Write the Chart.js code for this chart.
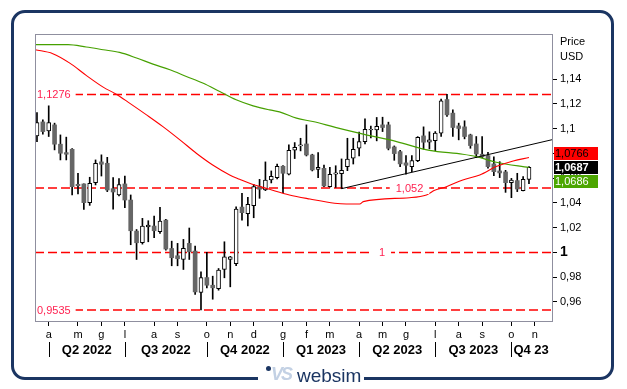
<!DOCTYPE html>
<html><head><meta charset="utf-8">
<script src="https://cdn.jsdelivr.net/npm/chart.js@4.4.0/dist/chart.umd.min.js"></script>
<style>
html,body{margin:0;padding:0;background:#fff;}
#wrap{position:relative;width:627px;height:389px;overflow:hidden;background:#fff;}
#frame{position:absolute;left:11px;top:10px;width:597px;height:364px;border:3px solid #1b3562;border-radius:14px;}
#c{position:absolute;left:0;top:0;}
#logobg{position:absolute;left:258px;top:370px;width:106px;height:19px;background:#fff;}
#dot{position:absolute;left:266px;top:366px;width:5px;height:5px;border-radius:50%;background:#1b3562;}
#vs{position:absolute;left:271px;top:365px;font:italic bold 18px "Liberation Sans",Arial,sans-serif;color:#c3d1e4;letter-spacing:-2px;line-height:18px;}
#ws{position:absolute;left:297px;top:366px;font:19px "Liberation Sans",Arial,sans-serif;color:#1b3562;line-height:19px;}
</style></head>
<body>
<div id="wrap">
  <div id="frame"></div>
  <canvas id="c" width="627" height="389"></canvas>
  <div id="logobg"></div>
  <div id="dot"></div>
  <div id="vs">VS</div>
  <div id="ws">websim</div>
</div>
<script>
// Weekly candles, week index 0 = 14 Mar 2022 ... 84 = 23 Oct 2023
const opens=[1.0941,1.1054,1.0982,1.1030,1.0874,1.0806,1.0833,1.0550,1.0553,1.0402,
1.0564,1.0731,1.0720,1.0515,1.0464,1.0553,1.0423,1.0172,1.0078,1.0206,
1.0213,1.0167,1.0261,1.0032,0.9973,0.9943,1.0073,1.0011,0.9676,0.9797,
0.9735,0.9708,0.9862,0.9944,0.9910,1.0366,1.0313,1.0377,1.0531,1.0504,
1.0585,1.0604,1.0696,1.0631,1.0825,1.0861,1.0876,1.0787,1.0671,1.0679,
1.0531,1.0631,1.0636,1.0693,1.0761,1.0841,1.0895,1.0990,1.0990,1.1030,
1.1030,1.0852,1.0814,1.0723,1.0693,1.0741,1.0941,1.0890,1.0903,1.0963,
1.1235,1.1125,1.1022,1.1014,1.0949,1.0876,1.0793,1.0782,1.0715,1.0658,
1.0650,1.0563,1.0580,1.0499,1.0590];
const highs=[1.1130,1.1071,1.1184,1.1044,1.0949,1.0931,1.0839,1.0639,1.0553,1.0607,
1.0747,1.0788,1.0768,1.0604,1.0596,1.0617,1.0464,1.0185,1.0275,1.0256,
1.0294,1.0364,1.0267,1.0091,1.0073,1.0105,1.0197,1.0051,0.9843,1.0000,
0.9808,0.9870,1.0086,0.9968,1.0369,1.0477,1.0445,1.0550,1.0590,1.0731,
1.0658,1.0714,1.0701,1.0868,1.0887,1.0922,1.1030,1.0793,1.0806,1.0706,
1.0687,1.0700,1.0755,1.0922,1.0922,1.0971,1.1079,1.1020,1.1090,1.1092,
1.1052,1.0860,1.0825,1.0782,1.0782,1.0935,1.1014,1.0974,1.0976,1.1238,
1.1276,1.1152,1.1044,1.1063,1.0955,1.0936,1.0936,1.0809,1.0771,1.0733,
1.0663,1.0598,1.0639,1.0612,1.0694];
const lows=[1.0895,1.0955,1.0936,1.0828,1.0747,1.0747,1.0464,1.0472,1.0348,1.0380,
1.0545,1.0617,1.0491,1.0350,1.0456,1.0361,1.0062,0.9943,1.0067,1.0086,
1.0119,1.0153,1.0019,0.9892,0.9892,0.9862,0.9943,0.9660,0.9535,0.9714,
0.9622,0.9695,0.9795,0.9722,0.9892,1.0261,1.0213,1.0280,1.0437,1.0499,
1.0561,1.0593,1.0483,1.0626,1.0758,1.0820,1.0779,1.0658,1.0604,1.0531,
1.0526,1.0525,1.0516,1.0660,1.0714,1.0779,1.0876,1.0925,1.0901,1.0976,
1.0828,1.0744,1.0693,1.0631,1.0653,1.0733,1.0833,1.0836,1.0822,1.0936,
1.1098,1.0936,1.0909,1.0917,1.0841,1.0766,1.0766,1.0680,1.0620,1.0604,
1.0485,1.0442,1.0491,1.0496,1.0555];
const closes=[1.1049,1.0976,1.1049,1.0874,1.0801,1.0793,1.0531,1.0539,1.0402,1.0558,
1.0720,1.0712,1.0504,1.0488,1.0547,1.0423,1.0175,1.0078,1.0213,1.0220,
1.0175,1.0253,1.0027,0.9957,0.9949,1.0032,1.0005,0.9681,0.9797,0.9735,
0.9714,0.9857,0.9965,0.9965,1.0350,1.0321,1.0388,1.0531,1.0510,1.0585,
1.0615,1.0696,1.0639,1.0825,1.0849,1.0869,1.0787,1.0666,1.0687,1.0537,
1.0631,1.0642,1.0663,1.0754,1.0833,1.0895,1.0995,1.0995,1.1019,1.1009,
1.0841,1.0798,1.0715,1.0704,1.0741,1.0930,1.0890,1.0909,1.0963,1.1224,
1.1111,1.1009,1.1001,1.0936,1.0863,1.0795,1.0771,1.0693,1.0652,1.0642,
1.0563,1.0585,1.0512,1.0590,1.0687];

// moving averages (read as points: week index, value)
const redMaWeeks=[-0.3,2.7,5.6,8.4,11.3,13.6,15.8,18.7,21.5,24.4,27.2,30.0,32.9,34.6,36.3,39.7,43.1,46.6,50.8,52.8,55.1,55.7,63.6,66.5,67.9,69.9,72.7,75.6,78.4,81.3,84.0];
const redMaValues=[1.1637,1.1605,1.1529,1.1430,1.1335,1.1276,1.1206,1.1111,1.1016,1.0909,1.0801,1.0706,1.0626,1.0591,1.0558,1.0510,1.0464,1.0431,1.0397,1.0391,1.0391,1.0410,1.0442,1.0464,1.0502,1.0531,1.0585,1.0626,1.0693,1.0739,1.0766];
const greenMaWeeks=[-0.3,5.3,8.4,11.3,14.1,17.0,19.8,22.7,25.5,28.3,31.2,34.0,36.9,39.7,41.4,44.3,47.1,50.8,55.7,61.4,67.0,72.7,75.0,78.4,84.0];
const greenMaValues=[1.1678,1.1678,1.1659,1.1637,1.1615,1.1570,1.1521,1.1475,1.1421,1.1368,1.1300,1.1233,1.1184,1.1151,1.1135,1.1084,1.1057,1.1012,1.0955,1.0895,1.0824,1.0793,1.0774,1.0728,1.0686];
const trendWeeks=[52.0,88.1];
const trendValues=[1.0515,1.0912];

const levelValues=[1.1276,1.052,1,0.9535];
const levelLabels=['1,1276','1,052','1','0,9535'];

const yTickValues=[0.96,0.98,1,1.02,1.04,1.06,1.08,1.1,1.12,1.14];
const yTickLabels=['0,96','0,98','1','1,02','1,04','1,06','1,08','1,1','1,12','1,14'];
const monthTickWeeks=[2,7,11,15,20,24,29,33,37,42,46,50,55,59,63,68,72,76,81,85];
const monthLabels=['a','m','g','l','a','s','o','n','d','g','f','m','a','m','g','l','a','s','o','n'];
const quarterStartWeeks=[2,15,29,42,55,68,81];
const quarterLabels=['Q2 2022','Q3 2022','Q4 2022','Q1 2023','Q2 2023','Q3 2023','Q4 23'];

const FONT='"Liberation Sans", Arial, sans-serif';
Chart.defaults.font.family=FONT;
Chart.defaults.color='#000';

const idx=opens.map((_,i)=>i);
const wickData=idx.map(i=>({x:i,y:[lows[i],highs[i]]}));
const upData=idx.filter(i=>closes[i]>=opens[i]).map(i=>({x:i,y:[opens[i],closes[i]]}));
const downData=idx.filter(i=>closes[i]<opens[i]).map(i=>({x:i,y:[closes[i],opens[i]]}));
const pts=(ks,vs)=>ks.map((k,i)=>({x:k,y:vs[i]}));
const fmt=v=>v.toFixed(4).replace('.',',');

const XMIN=-0.34, XMAX=88.1;
const levelLabelWeeks=[null,63.6,58.9,null];

const overlay={
  id:'overlay',
  afterDatasetsDraw(chart){
    const {ctx,chartArea:a,scales:{x,y}}=chart;
    ctx.save();
    ctx.font='11px '+FONT;
    ctx.textBaseline='middle';
    levelValues.forEach((v,i)=>{
      const py=y.getPixelForValue(v);
      const t=levelLabels[i];
      const w=ctx.measureText(t).width;
      if(levelLabelWeeks[i]===null){
        ctx.fillStyle='#fff';
        ctx.fillRect(a.left+1,py-6,w+6,12);
        ctx.fillStyle='#ff1f4f';
        ctx.textAlign='left';
        ctx.fillText(t,a.left+2,py+0.5);
      }else{
        const cx=x.getPixelForValue(levelLabelWeeks[i]);
        ctx.fillStyle='#fff';
        ctx.fillRect(cx-w/2-6,py-6,w+12,12);
        ctx.fillStyle='#ff1f4f';
        ctx.textAlign='center';
        ctx.fillText(t,cx,py+0.5);
      }
    });
    ctx.strokeStyle='#8f8f9f';
    ctx.lineWidth=1;
    ctx.strokeRect(Math.round(a.left)+0.5,Math.round(a.top)+0.5,Math.round(a.right-a.left)-1,Math.round(a.bottom-a.top)-1);
    ctx.restore();
  },
  afterDraw(chart){
    const {ctx,chartArea:a,scales:{x,y}}=chart;
    ctx.save();
    // quarter row
    ctx.strokeStyle='#000';ctx.lineWidth=1;
    quarterStartWeeks.forEach(k=>{
      const px=Math.round(x.getPixelForValue(k))+0.5;
      ctx.beginPath();ctx.moveTo(px,a.bottom+20);ctx.lineTo(px,a.bottom+35);ctx.stroke();
    });
    ctx.font='bold 13px '+FONT;ctx.fillStyle='#000';ctx.textBaseline='middle';
    quarterLabels.forEach((t,i)=>{
      const x0=x.getPixelForValue(quarterStartWeeks[i]);
      if(i<quarterLabels.length-1){
        const x1=x.getPixelForValue(quarterStartWeeks[i+1]);
        ctx.textAlign='center';ctx.fillText(t,(x0+x1)/2,a.bottom+28.5);
      }else{
        ctx.textAlign='left';ctx.fillText(t,x0+2,a.bottom+28.5);
      }
    });
    // axis header
    ctx.font='11px '+FONT;ctx.textAlign='left';
    ctx.fillText('Price',a.right+7,a.top+8);
    ctx.fillText('USD',a.right+7,a.top+23);
    // last-value boxes
    const lastClose=closes[closes.length-1];
    const lastRed=redMaValues[redMaValues.length-1];
    const lastGreen=greenMaValues[greenMaValues.length-1];
    const cy=y.getPixelForValue(lastClose);
    const bx=a.right+1,bw=44,bh=13;
    const bTop=Math.round(cy-bh/2);
    const boxes=[
      {top:bTop-bh-1,fill:'#ff0000',color:'#000',bold:false,text:fmt(lastRed)},
      {top:bTop,fill:'#000000',color:'#fff',bold:true,text:fmt(lastClose)},
      {top:bTop+bh+1,fill:'#4ca600',color:'#fff',bold:false,text:fmt(lastGreen)}
    ];
    boxes.forEach(b=>{
      ctx.fillStyle=b.fill;ctx.fillRect(bx,b.top,bw,bh);
      ctx.fillStyle=b.color;ctx.font=(b.bold?'bold ':'')+'11px '+FONT;
      ctx.fillText(b.text,bx+1,b.top+bh/2+0.5);
    });
    ctx.restore();
  }
};

new Chart(document.getElementById('c'),{
  type:'bar',
  data:{datasets:[
    ...levelValues.map(v=>({type:'line',data:[{x:XMIN,y:v},{x:XMAX,y:v}],borderColor:'#ff0000',borderWidth:1.5,borderDash:[9,4],pointRadius:0,order:10})),
    {type:'bar',data:wickData,backgroundColor:'#000',borderWidth:0,barThickness:1,grouped:false,order:5},
    {type:'bar',data:downData,backgroundColor:'#666666',borderColor:'#666666',borderWidth:0,barThickness:4,grouped:false,order:4},
    {type:'bar',data:upData,backgroundColor:'#ffffff',borderColor:'#000',borderWidth:1,borderSkipped:false,barThickness:4,grouped:false,order:4},
    {type:'line',data:pts(greenMaWeeks,greenMaValues),borderColor:'#46a000',borderWidth:1.2,pointRadius:0,cubicInterpolationMode:'monotone',order:2},
    {type:'line',data:pts(redMaWeeks,redMaValues),borderColor:'#ff0000',borderWidth:1.1,pointRadius:0,cubicInterpolationMode:'monotone',order:1},
    {type:'line',data:pts(trendWeeks,trendValues),borderColor:'#000',borderWidth:1,pointRadius:0,order:0}
  ]},
  options:{
    responsive:false,animation:false,devicePixelRatio:1,events:[],
    layout:{padding:{left:35,top:34,right:0,bottom:0}},
    plugins:{legend:{display:false},tooltip:{enabled:false}},
    scales:{
      x:{type:'linear',min:XMIN,max:XMAX,offset:false,
        grid:{display:true,offset:false,drawOnChartArea:false,drawTicks:true,tickLength:4,color:'#000'},
        border:{display:false},
        afterBuildTicks:s=>{s.ticks=monthTickWeeks.map(v=>({value:v}));},
        afterFit:s=>{s.height=67;},
        ticks:{autoSkip:false,maxRotation:0,padding:2,font:{size:11},color:'#000',
          callback:(v,i)=>monthLabels[i]}
      },
      y:{type:'linear',position:'right',min:0.9438,max:1.1764,beginAtZero:false,
        grid:{display:true,drawOnChartArea:false,drawTicks:true,tickLength:4,color:'#000'},
        border:{display:false},
        afterBuildTicks:s=>{s.ticks=yTickValues.map(v=>({value:v}));},
        afterFit:s=>{s.width=74;},
        ticks:{padding:3,color:'#000',
          font:c=>(c.tick&&c.tick.value===1)?{size:14,weight:'bold'}:{size:11},
          callback:(v,i)=>yTickLabels[i]}
      }
    }
  },
  plugins:[overlay]
});
</script>
</body></html>
